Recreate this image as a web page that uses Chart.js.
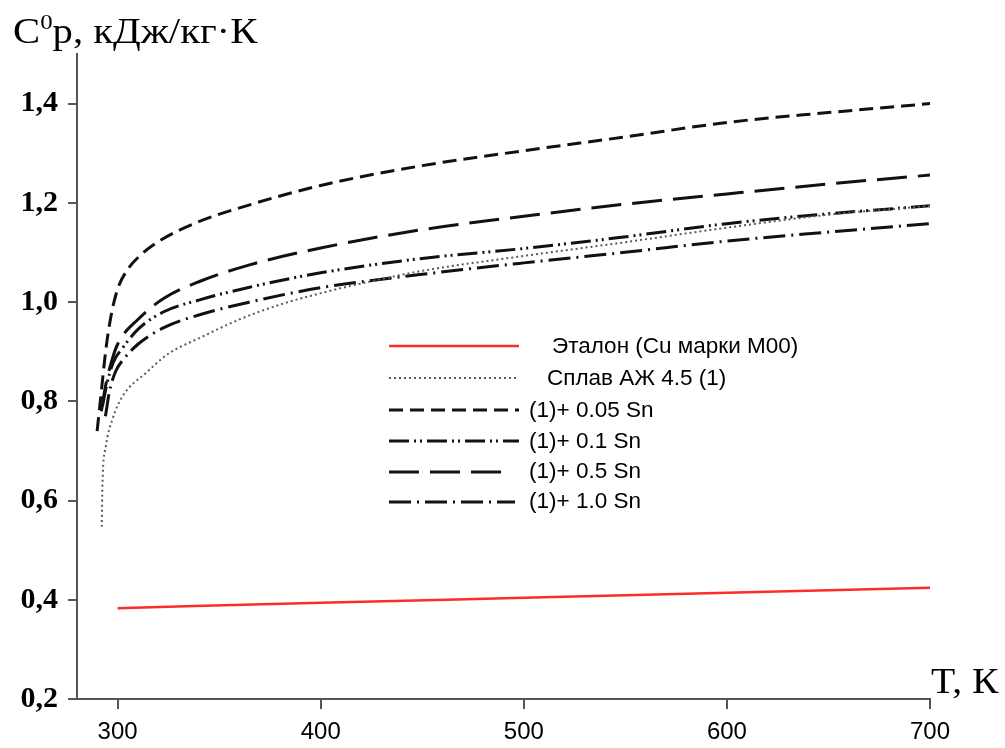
<!DOCTYPE html>
<html><head><meta charset="utf-8">
<script src="https://cdn.jsdelivr.net/npm/chart.js@4"></script>
<style>
html,body{margin:0;padding:0;background:#fff;}
#wrap{position:relative;width:1005px;height:748px;overflow:hidden;}
canvas{position:absolute;left:0;top:0;}
.lbl{position:absolute;font-family:"Liberation Serif","Times New Roman",serif;color:#000;white-space:nowrap;line-height:36px;font-size:36px;transform-origin:0 50%;}
.lbl sup{font-size:22px;vertical-align:0;position:relative;top:-14px;}
</style></head><body>
<div id="wrap"><canvas id="c" width="1005" height="748"></canvas>
<div class="lbl" id="ylab" style="left:13px;top:13px;transform:scaleX(1.13);">C<sup>0</sup>p, кДж/кг·К</div>
<div class="lbl" id="xlab" style="left:931px;top:663px;transform:scaleX(1.1);">T, К</div>
</div>
<script>
// ---- data ----
const seriesNames = ["Эталон (Cu марки М00)", "Сплав АЖ 4.5 (1)", "(1)+ 0.05 Sn", "(1)+ 0.1 Sn", "(1)+ 0.5 Sn", "(1)+ 1.0 Sn"];

const etalonT  = [300, 400, 500, 600, 700];
const etalonCp = [0.383, 0.394, 0.404, 0.414, 0.424];

const alloyT  = [292.2, 292.5, 294.2, 297.4, 302.4, 313.9, 325.4, 340, 360, 380, 400, 425, 450, 500, 547, 600, 650, 700];
const alloyCp = [0.547, 0.628, 0.709, 0.763, 0.810, 0.857, 0.897, 0.927, 0.965, 0.995, 1.018, 1.042, 1.063, 1.093, 1.119, 1.150, 1.176, 1.194];

const sn005T  = [289.9, 291.7, 294.2, 296.7, 299.9, 304.8, 311.4, 321.3, 340, 365, 400, 450, 500, 550, 600, 650, 700];
const sn005Cp = [0.740, 0.809, 0.904, 0.971, 1.025, 1.065, 1.095, 1.125, 1.162, 1.196, 1.235, 1.275, 1.305, 1.333, 1.362, 1.382, 1.400];

const sn01T  = [292.5, 295, 298, 302, 310, 323, 340, 365, 400, 450, 500, 547, 600, 650, 700];
const sn01Cp = [0.790, 0.840, 0.880, 0.905, 0.945, 0.981, 1.004, 1.030, 1.059, 1.088, 1.108, 1.130, 1.158, 1.178, 1.194];

const sn05T  = [292, 294, 297, 300, 310, 323, 340, 365, 400, 450, 500, 547, 600, 650, 700];
const sn05Cp = [0.780, 0.830, 0.880, 0.915, 0.965, 1.008, 1.041, 1.075, 1.109, 1.146, 1.173, 1.196, 1.218, 1.238, 1.256];

const sn10T  = [294, 296, 299, 303, 310, 323, 340, 365, 400, 450, 500, 547, 600, 650, 700];
const sn10Cp = [0.770, 0.820, 0.860, 0.885, 0.915, 0.949, 0.974, 1.000, 1.029, 1.056, 1.079, 1.099, 1.123, 1.141, 1.158];

const xTicks = [300, 400, 500, 600, 700];
const yTicks = [0.2, 0.4, 0.6, 0.8, 1.0, 1.2, 1.4];

// ---- build ----
const pts = (xs, ys) => xs.map((x, i) => ({x: x, y: ys[i]}));

const datasets = [
  {label: seriesNames[0], data: pts(etalonT, etalonCp), borderColor: '#ff2a2a', borderWidth: 2.5, borderDash: []},
  {label: seriesNames[1], data: pts(alloyT, alloyCp), borderColor: '#5a5a5a', borderWidth: 2, borderDash: [2, 3]},
  {label: seriesNames[2], data: pts(sn005T, sn005Cp), borderColor: '#111111', borderWidth: 3, borderDash: [14, 7]},
  {label: seriesNames[3], data: pts(sn01T, sn01Cp), borderColor: '#111111', borderWidth: 3, borderDash: [20, 5, 2, 4, 2, 5]},
  {label: seriesNames[4], data: pts(sn05T, sn05Cp), borderColor: '#111111', borderWidth: 3, borderDash: [30, 11]},
  {label: seriesNames[5], data: pts(sn10T, sn10Cp), borderColor: '#111111', borderWidth: 3, borderDash: [22, 6, 2, 6]}
];
datasets.forEach(d => { d.fill = false; d.pointRadius = 0; d.cubicInterpolationMode = 'monotone'; });

const legendPlugin = {
  id: 'inlineLegend',
  afterDraw(chart, args, opts) {
    const ctx = chart.ctx;
    chart.data.datasets.forEach((ds, i) => {
      const it = opts.items[i];
      ctx.save();
      ctx.strokeStyle = ds.borderColor;
      ctx.lineWidth = ds.borderWidth;
      ctx.setLineDash(ds.borderDash || []);
      ctx.beginPath();
      ctx.moveTo(it.x1, it.y);
      ctx.lineTo(it.x2, it.y);
      ctx.stroke();
      ctx.setLineDash([]);
      ctx.fillStyle = '#000';
      ctx.font = opts.font;
      ctx.textBaseline = 'middle';
      ctx.textAlign = 'left';
      ctx.fillText(ds.label, it.tx, it.ty);
      ctx.restore();
    });
  }
};

new Chart(document.getElementById('c'), {
  type: 'line',
  data: {datasets: datasets},
  plugins: [legendPlugin],
  options: {
    responsive: false,
    animation: false,
    layout: {padding: {top: 54, right: 75, left: 0, bottom: 0}},
    plugins: {
      legend: {display: false},
      tooltip: {enabled: false},
      inlineLegend: {
        font: '22.5px "Liberation Sans", Arial, sans-serif',
        items: [
          {x1: 389, x2: 519, y: 346, tx: 552, ty: 347},
          {x1: 389, x2: 519, y: 378, tx: 547, ty: 379},
          {x1: 389, x2: 519, y: 410, tx: 529, ty: 411},
          {x1: 389, x2: 519, y: 441, tx: 529, ty: 442},
          {x1: 389, x2: 508, y: 472, tx: 529, ty: 472},
          {x1: 389, x2: 515, y: 502, tx: 529, ty: 502}
        ]
      }
    },
    scales: {
      x: {
        type: 'linear', min: 280, max: 700,
        afterBuildTicks: s => { s.ticks = xTicks.map(v => ({value: v})); },
        afterFit: s => { s.height = 49; },
        grid: {display: true, drawOnChartArea: false, drawTicks: true, tickLength: 10, color: '#555', lineWidth: 2},
        border: {display: true, color: '#555', width: 2},
        ticks: {font: {family: '"Liberation Sans", Arial, sans-serif', size: 24}, color: '#000', padding: 9, maxRotation: 0, autoSkip: false}
      },
      y: {
        type: 'linear', min: 0.2, max: 1.5,
        afterBuildTicks: s => { s.ticks = yTicks.map(v => ({value: v})); },
        afterFit: s => { s.width = 77; },
        grid: {display: true, drawOnChartArea: false, drawTicks: true, tickLength: 9, color: '#555', lineWidth: 2},
        border: {display: true, color: '#555', width: 2},
        ticks: {
          callback: v => Number(v).toFixed(1).replace('.', ','),
          font: {family: '"Liberation Serif", "Times New Roman", serif', size: 30, weight: 'bold'},
          color: '#000', padding: 10, autoSkip: false
        }
      }
    }
  }
});
</script>
</body></html>
